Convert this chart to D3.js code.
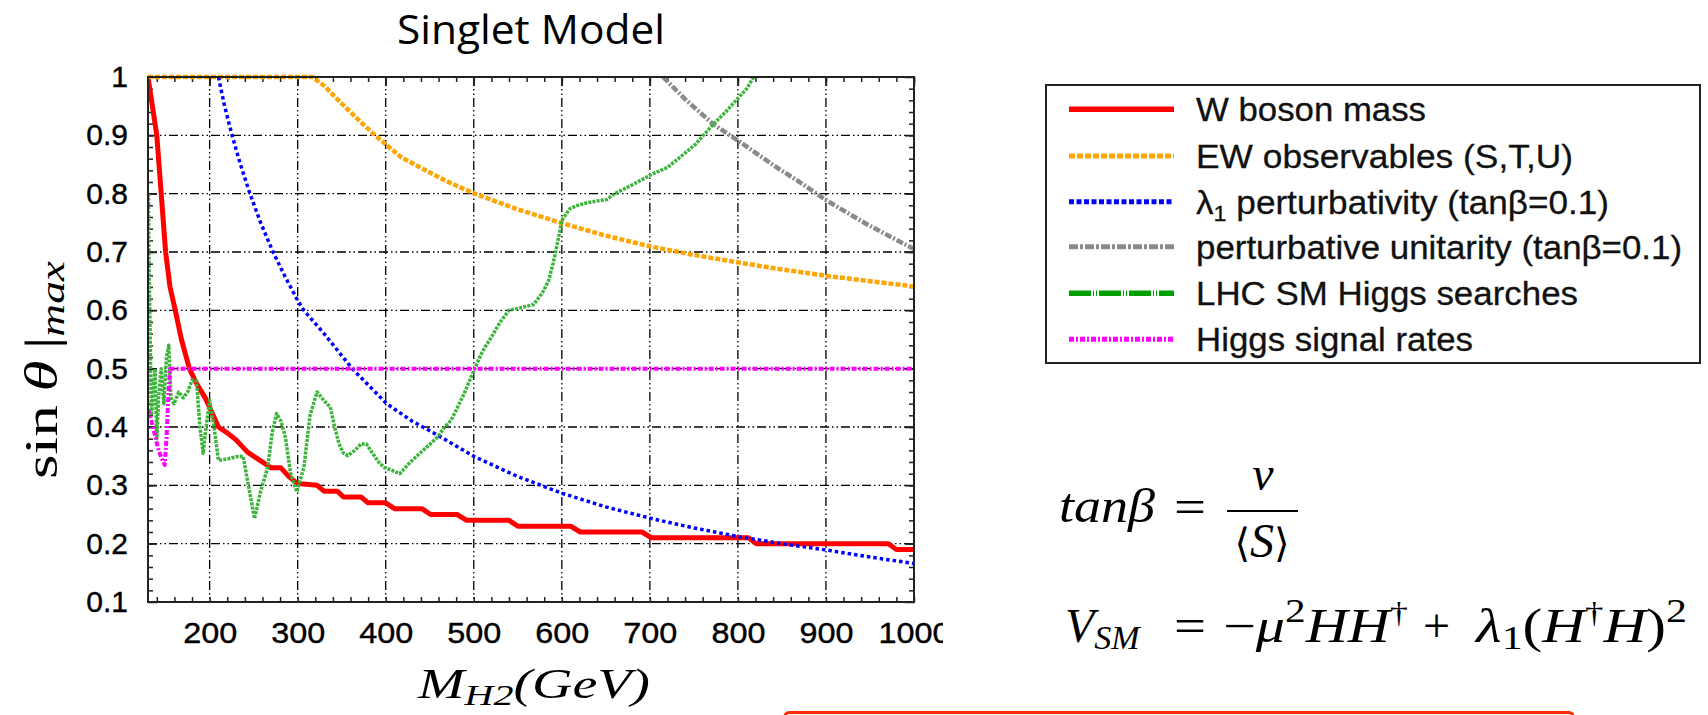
<!DOCTYPE html>
<html>
<head>
<meta charset="utf-8">
<script src="https://cdn.jsdelivr.net/npm/d3@7"></script>
<style>
  html, body { margin: 0; padding: 0; background: #fff; }
  svg { display: block; }
</style>
</head>
<body>
<svg id="chart" width="1708" height="715"></svg>
<script>
// ---------------- data ----------------
const xTickValues = [200, 300, 400, 500, 600, 700, 800, 900, 1000];
const yTickValues = [0.1, 0.2, 0.3, 0.4, 0.5, 0.6, 0.7, 0.8, 0.9, 1];
const xTickLabels = ["200", "300", "400", "500", "600", "700", "800", "900", "1000"];
const yTickLabels = ["0.1", "0.2", "0.3", "0.4", "0.5", "0.6", "0.7", "0.8", "0.9", "1"];

const seriesNames = [
  "W boson mass",
  "EW observables (S,T,U)",
  "perturbativity",
  "perturbative unitarity (tanβ=0.1)",
  "LHC SM Higgs searches",
  "Higgs signal rates"
];

const wMass = [[130,1.0],[135,0.95],[140,0.9],[145,0.8],[150,0.7],[155,0.64],[161,0.6],[168,0.55],[177,0.5],[185,0.475],[195,0.45],[210,0.4],[220,0.39],[230,0.378],[243,0.357],[255,0.345],[266,0.334],[270,0.33],[281,0.33],[290,0.315],[300,0.303],[322,0.30],[330,0.29],[345,0.29],[352,0.28],[372,0.28],[380,0.27],[400,0.27],[410,0.26],[441,0.26],[451,0.25],[481,0.25],[492,0.24],[540,0.24],[550,0.23],[610,0.23],[621,0.22],[691,0.22],[702,0.21],[812,0.21],[821,0.20],[971,0.20],[980,0.19],[1000,0.19]];

const ewObs = [[130,1],[317,1],[330,0.985],[347,0.959],[370,0.925],[388,0.9],[418,0.862],[468,0.822],[501,0.8],[550,0.773],[601,0.749],[650,0.728],[702,0.709],[750,0.695],[801,0.682],[850,0.67],[901,0.659],[950,0.65],[1000,0.641]];

const lambdaPert = [[210,1.0],[217,0.95],[225.5,0.9],[235,0.85],[245.8,0.8],[258,0.75],[272,0.7],[285,0.66],[300,0.617],[307,0.6],[330,0.56],[362,0.5],[401,0.44],[430,0.41],[459,0.386],[501,0.349],[550,0.315],[601,0.286],[650,0.263],[702,0.243],[750,0.227],[801,0.212],[850,0.2],[901,0.189],[950,0.177],[1000,0.166]];

const pertUnit = [[715,1.0],[740,0.962],[772,0.919],[801,0.89],[844,0.845],[870,0.82],[901,0.788],[946,0.748],[1000,0.705]];

const lhcSearch = [[130.5,0.8],[131,0.7],[132,0.6],[133,0.5],[134,0.42],[136,0.46],[138,0.5],[140,0.38],[142,0.45],[145,0.5],[148,0.44],[151,0.52],[153.6,0.54],[156,0.45],[159.6,0.44],[165,0.46],[170,0.45],[175,0.46],[180,0.48],[185,0.48],[189,0.4],[192.6,0.355],[196,0.4],[200,0.446],[205,0.4],[210,0.343],[220,0.345],[230,0.349],[238,0.35],[244,0.3],[251,0.243],[258,0.29],[266,0.331],[271,0.39],[276,0.423],[281,0.41],[286,0.383],[292,0.32],[299,0.289],[303,0.31],[307,0.33],[314,0.42],[322,0.46],[330,0.445],[337,0.434],[342,0.4],[347,0.371],[352,0.355],[357,0.351],[365,0.36],[372,0.371],[378,0.371],[385,0.355],[392,0.34],[398,0.331],[408,0.325],[416,0.32],[428,0.34],[438,0.354],[450,0.37],[459,0.383],[467,0.4],[474,0.411],[482,0.435],[489,0.457],[501,0.5],[510,0.53],[520,0.554],[530,0.58],[540,0.6],[555,0.605],[568,0.61],[578,0.63],[585,0.651],[590,0.68],[593,0.7],[597,0.73],[600,0.754],[609,0.774],[616,0.779],[630,0.785],[651,0.79],[660,0.8],[680,0.815],[702,0.833],[720,0.845],[734,0.862],[752,0.885],[772,0.919],[786,0.94],[801,0.965],[810,0.98],[818,1.0]];

const signalRates = [[130,0.43],[134,0.41],[138,0.385],[142,0.36],[146,0.345],[149,0.335],[151,0.38],[153,0.45],[155,0.5],[1000,0.5]];

// ---------------- layout ----------------
const svg = d3.select("#chart");
const L = 148, R = 914, T = 77, B = 602;
const x = d3.scaleLinear().domain([130, 1000]).range([L, R]);
const y = d3.scaleLinear().domain([0.1, 1]).range([B, T]);

const styles = [
  {data: wMass,      color: "#ff0000", width: 5,   dash: null,            lw: 5.5, lcolor: "#ff0000", ldash: null},
  {data: ewObs,      color: "#ffa500", width: 4.5, dash: "5,2",           lw: 5,   lcolor: "#ffa500", ldash: "6,2"},
  {data: lambdaPert, color: "#0000ff", width: 3.5, dash: "3.5,3",         lw: 5,   lcolor: "#0000ff", ldash: "5,2.5"},
  {data: pertUnit,   color: "#8a8a8a", width: 4.5, dash: "7,2,2,2",       lw: 5,   lcolor: "#8a8a8a", ldash: "9,2,3,2"},
  {data: lhcSearch,  color: "#3cb43c", width: 3.5, dash: "3,1.2",         lw: 5.5, lcolor: "#00a000", ldash: "22,2,1,2,1,2"},
  {data: signalRates,color: "#ff00ff", width: 4,   dash: "5,2,2,2",       lw: 5,   lcolor: "#ff00ff", ldash: "5,2,2,2"}
];

// clip
const defs = svg.append("defs");
defs.append("clipPath").attr("id", "plotclip")
  .append("rect").attr("x", L).attr("y", T - 3).attr("width", R - L).attr("height", B - T + 3);
defs.append("clipPath").attr("id", "labelclip")
  .append("rect").attr("x", 0).attr("y", 0).attr("width", 943).attr("height", 715);

// grid
const gridDash = "9,3,1.5,3,1.5,3";
const grid = svg.append("g");
grid.selectAll("line.v").data(xTickValues.filter(v => v < 1000)).join("line")
  .attr("x1", d => x(d)).attr("x2", d => x(d)).attr("y1", T).attr("y2", B)
  .attr("stroke", "#000").attr("stroke-width", 1.3).attr("stroke-dasharray", gridDash);
grid.selectAll("line.h").data(yTickValues.filter(v => v > 0.1 && v < 1)).join("line")
  .attr("x1", L).attr("x2", R).attr("y1", d => y(d)).attr("y2", d => y(d))
  .attr("stroke", "#000").attr("stroke-width", 1.3).attr("stroke-dasharray", gridDash);

// ticks (inward, mirrored)
const xMinor = d3.range(140, 1001, 20);
const yMinor = d3.range(0.12, 1.0, 0.02).map(v => +v.toFixed(2));
function tickStyle(g) { g.select(".domain").remove(); g.selectAll("line").attr("stroke", "#222").attr("stroke-width", 1.5); }

svg.append("g").attr("transform", `translate(0,${B})`)
  .call(d3.axisBottom(x).tickValues(xMinor).tickFormat("").tickSizeInner(-5).tickSizeOuter(0)).call(tickStyle);
svg.append("g").attr("transform", `translate(0,${T})`)
  .call(d3.axisTop(x).tickValues(xMinor).tickFormat("").tickSizeInner(-5).tickSizeOuter(0)).call(tickStyle);
svg.append("g").attr("transform", `translate(${L},0)`)
  .call(d3.axisLeft(y).tickValues(yMinor).tickFormat("").tickSizeInner(-5).tickSizeOuter(0)).call(tickStyle);
svg.append("g").attr("transform", `translate(${R},0)`)
  .call(d3.axisRight(y).tickValues(yMinor).tickFormat("").tickSizeInner(-5).tickSizeOuter(0)).call(tickStyle);

const tickFont = "Liberation Sans, Arial, sans-serif";
const xAxisG = svg.append("g").attr("transform", `translate(0,${B})`)
  .call(d3.axisBottom(x).tickValues(xTickValues).tickFormat((d, i) => xTickLabels[i]).tickSizeInner(-9).tickSizeOuter(0).tickPadding(20))
  .call(tickStyle);
xAxisG.attr("clip-path", "url(#labelclip)");
xAxisG.selectAll("text").attr("font-family", tickFont).attr("font-size", 30).attr("fill", "#000")
  .attr("stroke", "#000").attr("stroke-width", 0.4)
  .attr("textLength", (d, i) => xTickLabels[i].length * 18).attr("lengthAdjust", "spacingAndGlyphs");

svg.append("g").attr("transform", `translate(0,${T})`)
  .call(d3.axisTop(x).tickValues(xTickValues).tickFormat("").tickSizeInner(-9).tickSizeOuter(0)).call(tickStyle);

const yAxisG = svg.append("g").attr("transform", `translate(${L},0)`)
  .call(d3.axisLeft(y).tickValues(yTickValues).tickFormat((d, i) => yTickLabels[i]).tickSizeInner(-9).tickSizeOuter(0).tickPadding(20))
  .call(tickStyle);
yAxisG.selectAll("text").attr("font-family", tickFont).attr("font-size", 30).attr("fill", "#000")
  .attr("stroke", "#000").attr("stroke-width", 0.4);

svg.append("g").attr("transform", `translate(${R},0)`)
  .call(d3.axisRight(y).tickValues(yTickValues).tickFormat("").tickSizeInner(-9).tickSizeOuter(0)).call(tickStyle);

// curves
const line = d3.line().x(d => x(d[0])).y(d => y(d[1]));
const curves = svg.append("g").attr("clip-path", "url(#plotclip)");
styles.forEach(s => {
  curves.append("path").datum(s.data)
    .attr("d", line).attr("fill", "none")
    .attr("stroke", s.color).attr("stroke-width", s.width)
    .attr("stroke-dasharray", s.dash)
    .attr("stroke-linejoin", "round");
});

// frame
svg.append("rect").attr("x", L).attr("y", T).attr("width", R - L).attr("height", B - T)
  .attr("fill", "none").attr("stroke", "#222").attr("stroke-width", 2);

// title
svg.append("text").attr("x", 397).attr("y", 44)
  .attr("font-family", "Open Sans, Noto Sans, sans-serif").attr("font-size", 41)
  .attr("textLength", 268).attr("lengthAdjust", "spacingAndGlyphs")
  .text("Singlet Model");

// y-axis label
const serif = "Liberation Serif, Times New Roman, serif";
const yl = svg.append("text").attr("transform", "translate(57,370) rotate(-90)")
  .attr("text-anchor", "middle").attr("font-family", serif)
  .attr("font-size", 46).attr("textLength", 218).attr("lengthAdjust", "spacingAndGlyphs");
yl.append("tspan").text("sin");
yl.append("tspan").attr("dx", 10).attr("font-style", "italic").text("θ");
yl.append("tspan").attr("dx", 8).text("|");
yl.append("tspan").attr("dy", 7).attr("font-style", "italic").attr("font-size", 33).text("max");

// x-axis label
const xl = svg.append("text").attr("x", 418).attr("y", 698)
  .attr("font-family", serif).attr("font-style", "italic")
  .attr("font-size", 42).attr("textLength", 232).attr("lengthAdjust", "spacingAndGlyphs");
xl.append("tspan").text("M");
xl.append("tspan").attr("dy", 7).attr("font-size", 30).text("H2");
xl.append("tspan").attr("dy", -7).text("(GeV)");

// legend
const lg = svg.append("g");
lg.append("rect").attr("x", 1046).attr("y", 85).attr("width", 654).attr("height", 278)
  .attr("fill", "#fff").attr("stroke", "#222").attr("stroke-width", 2);
const legendRowsY = [109.3, 156, 201.7, 246.7, 293.3, 339.3];
const legendWidths = [230, 377, 413, 486, 382, 277];
styles.forEach((s, i) => {
  const yy = legendRowsY[i];
  lg.append("line").attr("x1", 1069).attr("x2", 1174).attr("y1", yy).attr("y2", yy)
    .attr("stroke", s.lcolor).attr("stroke-width", s.lw)
    .attr("stroke-dasharray", s.ldash);
  const t = lg.append("text").attr("x", 1196).attr("y", yy + 12)
    .attr("font-family", tickFont).attr("font-size", 33)
    .attr("fill", "#111").attr("stroke", "#111").attr("stroke-width", 0.3)
    .attr("textLength", legendWidths[i]).attr("lengthAdjust", "spacingAndGlyphs");
  if (i === 2) {
    t.append("tspan").text("λ");
    t.append("tspan").attr("dy", 7).attr("font-size", 22).text("1");
    t.append("tspan").attr("dy", -7).text(" perturbativity (tanβ=0.1)");
  } else {
    t.text(seriesNames[i]);
  }
});

// formulas
svg.append("text").attr("x", 1059).attr("y", 522).attr("font-family", serif).attr("font-style", "italic")
  .attr("font-size", 48).attr("textLength", 96).attr("lengthAdjust", "spacingAndGlyphs").text("tanβ");
svg.append("text").attr("x", 1174).attr("y", 523).attr("font-family", serif)
  .attr("font-size", 48).attr("textLength", 32).attr("lengthAdjust", "spacingAndGlyphs").text("=");
svg.append("line").attr("x1", 1227).attr("x2", 1298).attr("y1", 511).attr("y2", 511)
  .attr("stroke", "#000").attr("stroke-width", 2);
svg.append("text").attr("x", 1263).attr("y", 490).attr("text-anchor", "middle").attr("font-family", serif)
  .attr("font-style", "italic").attr("font-size", 48).text("v");
const sFrac = svg.append("text").attr("x", 1262).attr("y", 557).attr("text-anchor", "middle")
  .attr("font-family", serif).attr("font-size", 48);
sFrac.append("tspan").attr("font-family", "DejaVu Serif, serif").attr("font-size", 40).text("⟨");
sFrac.append("tspan").attr("font-style", "italic").text("S");
sFrac.append("tspan").attr("font-family", "DejaVu Serif, serif").attr("font-size", 40).text("⟩");

// V_SM formula
const f2y = 642;
const v1 = svg.append("text").attr("x", 1065).attr("y", f2y).attr("font-family", serif).attr("font-style", "italic").attr("font-size", 48);
v1.append("tspan").text("V");
v1.append("tspan").attr("dy", 7).attr("font-size", 34).text("SM");
svg.append("text").attr("x", 1174).attr("y", f2y).attr("font-family", serif).attr("font-size", 48)
  .attr("textLength", 32).attr("lengthAdjust", "spacingAndGlyphs").text("=");
const v2 = svg.append("text").attr("x", 1223).attr("y", f2y).attr("font-family", serif).attr("font-size", 48)
  .attr("textLength", 185).attr("lengthAdjust", "spacingAndGlyphs");
v2.append("tspan").text("−");
v2.append("tspan").attr("font-style", "italic").text("μ");
v2.append("tspan").attr("dy", -20).attr("font-size", 34).text("2");
v2.append("tspan").attr("dy", 20).attr("font-style", "italic").text("HH");
v2.append("tspan").attr("dy", -20).attr("font-size", 30).text("†");
svg.append("text").attr("x", 1423).attr("y", f2y).attr("font-family", serif).attr("font-size", 48)
  .text("+");
const v3 = svg.append("text").attr("x", 1476).attr("y", f2y).attr("font-family", serif).attr("font-size", 48)
  .attr("textLength", 211).attr("lengthAdjust", "spacingAndGlyphs");
v3.append("tspan").attr("font-style", "italic").text("λ");
v3.append("tspan").attr("dy", 7).attr("font-size", 34).text("1");
v3.append("tspan").attr("dy", -7).text("(");
v3.append("tspan").attr("font-style", "italic").text("H");
v3.append("tspan").attr("dy", -20).attr("font-size", 30).text("†");
v3.append("tspan").attr("dy", 20).attr("font-style", "italic").text("H");
v3.append("tspan").text(")");
v3.append("tspan").attr("dy", -20).attr("font-size", 34).text("2");

// red box at bottom (top edge visible)
svg.append("rect").attr("x", 785).attr("y", 712.5).attr("width", 788).attr("height", 30).attr("rx", 4)
  .attr("fill", "none").attr("stroke", "#ff2a00").attr("stroke-width", 3);
</script>
</body>
</html>
